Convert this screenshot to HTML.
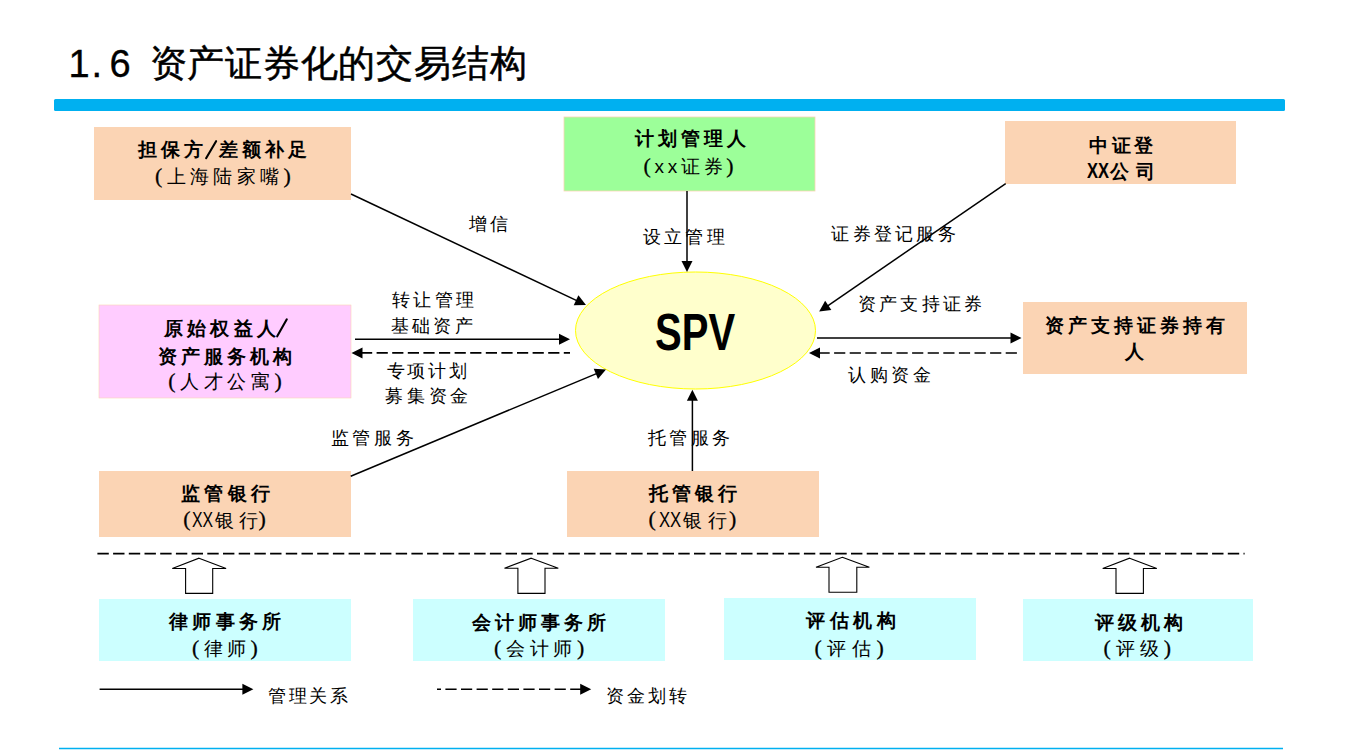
<!DOCTYPE html>
<html><head><meta charset="utf-8"><style>
html,body{margin:0;padding:0;background:#fff;}
body{width:1349px;height:752px;overflow:hidden;position:relative;font-family:"Liberation Sans",sans-serif;color:#000;}
svg{position:absolute;left:0;top:0;}
.t{position:absolute;white-space:nowrap;line-height:1;}
.sl{font-size:1.35em;line-height:0}
.pl,.pr{font-family:"Liberation Serif",serif;font-size:1.15em;display:inline-block;line-height:0;-webkit-text-stroke:0.3px #000}
.pl{text-align:right;width:12px}
.pr{text-align:left;width:10px}
.spv{position:absolute;left:656px;top:0;font-weight:bold;white-space:nowrap;line-height:1;transform-origin:0 0;}
</style></head><body>
<svg width="1349" height="752" viewBox="0 0 1349 752">
<rect x="54" y="99" width="1231" height="12" rx="1.5" fill="#00B0F0"/>
<line x1="59" y1="748.4" x2="1283" y2="748.4" stroke="#00B0F0" stroke-width="1.5"/>
<rect x="94" y="127" width="257" height="73" fill="#FBD4B4" />
<rect x="564" y="117" width="251" height="74" fill="#9CFF99" stroke="#FBD4B4" stroke-width="0.8"/>
<rect x="1005" y="121" width="231" height="63" fill="#FBD4B4" />
<rect x="99" y="305" width="252" height="93" fill="#FFCCFF" stroke="#FBD4B4" stroke-width="0.6"/>
<rect x="1023" y="302" width="224" height="72" fill="#FBD4B4" />
<rect x="99" y="471" width="252" height="66" fill="#FBD4B4" />
<rect x="567" y="471" width="252" height="66" fill="#FBD4B4" />
<rect x="99" y="599" width="252" height="62" fill="#CCFFFF" />
<rect x="413" y="599" width="252" height="62" fill="#CCFFFF" />
<rect x="724" y="598" width="252" height="62" fill="#CCFFFF" />
<rect x="1023" y="599" width="230" height="62" fill="#CCFFFF" />
<ellipse cx="695.5" cy="330.5" rx="120" ry="58.5" fill="#FFFFCC" stroke="#FFFF00" stroke-width="1"/>
<polygon points="586.00,305.00 573.70,305.28 578.40,295.33" fill="#000"/>
<line x1="351.00" y1="194.00" x2="577.86" y2="301.16" stroke="#000" stroke-width="1.5"/>
<polygon points="687.00,272.00 681.50,261.00 692.50,261.00" fill="#000"/>
<line x1="687.00" y1="191.00" x2="687.00" y2="263.00" stroke="#000" stroke-width="1.5"/>
<polygon points="819.20,311.60 825.16,300.84 831.38,309.91" fill="#000"/>
<line x1="1005.70" y1="183.60" x2="826.62" y2="306.51" stroke="#000" stroke-width="1.5"/>
<polygon points="570.00,339.30 559.00,344.80 559.00,333.80" fill="#000"/>
<line x1="355.00" y1="339.30" x2="561.00" y2="339.30" stroke="#000" stroke-width="1.5"/>
<polygon points="351.50,352.90 362.50,347.40 362.50,358.40" fill="#000"/>
<line x1="361.00" y1="352.90" x2="570.00" y2="352.90" stroke="#000" stroke-width="1.7" stroke-dasharray="11.2 4.4"/>
<polygon points="606.00,369.60 597.97,378.91 593.73,368.76" fill="#000"/>
<line x1="350.70" y1="476.20" x2="597.69" y2="373.07" stroke="#000" stroke-width="1.5"/>
<polygon points="692.40,389.80 697.90,400.80 686.90,400.80" fill="#000"/>
<line x1="692.40" y1="471.00" x2="692.40" y2="398.80" stroke="#000" stroke-width="1.5"/>
<polygon points="1021.50,338.00 1010.50,343.50 1010.50,332.50" fill="#000"/>
<line x1="817.00" y1="338.00" x2="1012.50" y2="338.00" stroke="#000" stroke-width="1.5"/>
<polygon points="809.00,353.00 820.00,347.50 820.00,358.50" fill="#000"/>
<line x1="818.50" y1="353.00" x2="1017.00" y2="353.00" stroke="#000" stroke-width="1.7" stroke-dasharray="11.2 4.4"/>
<polygon points="253.40,689.30 242.40,694.80 242.40,683.80" fill="#000"/>
<line x1="99.60" y1="689.30" x2="244.40" y2="689.30" stroke="#000" stroke-width="1.5"/>
<polygon points="591.20,689.20 580.20,694.70 580.20,683.70" fill="#000"/>
<line x1="437.00" y1="689.20" x2="582.20" y2="689.20" stroke="#000" stroke-width="1.5" stroke-dasharray="11.2 4.4" stroke-dashoffset="7.2"/>
<line x1="216.1" y1="141.2" x2="206.1" y2="158.2" stroke="#000" stroke-width="2.1" stroke-linecap="round"/>
<line x1="286.8" y1="319.3" x2="277.2" y2="336.3" stroke="#000" stroke-width="2.1" stroke-linecap="round"/>
<line x1="97.4" y1="553.7" x2="1244.6" y2="553.7" stroke="#000" stroke-width="1.7" stroke-dasharray="11.4 4.3"/>
<polygon points="199.0,558.2 226.1,568.5 212.7,568.5 212.7,593.4 185.6,593.4 185.6,568.5 172.3,568.5" fill="#fff" stroke="#000" stroke-width="1.1" stroke-linejoin="miter"/>
<polygon points="531.2,558.2 558.3,568.2 545.0,568.2 545.0,593.4 517.9,593.4 517.9,568.2 504.5,568.2" fill="#fff" stroke="#000" stroke-width="1.1" stroke-linejoin="miter"/>
<polygon points="842.3,557.3 869.4,567.3 856.8,567.3 856.8,592.2 829.0,592.2 829.0,567.3 816.0,567.3" fill="#fff" stroke="#000" stroke-width="1.1" stroke-linejoin="miter"/>
<polygon points="1129.6,558.2 1156.8,568.5 1143.4,568.5 1143.4,593.4 1116.0,593.4 1116.0,568.5 1102.7,568.5" fill="#fff" stroke="#000" stroke-width="1.1" stroke-linejoin="miter"/>
</svg>
<div class="t" style="left:1087.14px;top:159.75px;font-size:22.17px;font-weight:700;transform:scaleX(0.744);transform-origin:0 0">XX</div>
<div class="t" style="left:191.68px;top:509.21px;font-size:22.46px;font-weight:400;transform:scaleX(0.704);transform-origin:0 0">XX</div>
<div class="t" style="left:658.67px;top:509.21px;font-size:22.46px;font-weight:400;transform:scaleX(0.742);transform-origin:0 0">XX</div>
<div class="t" style="left:138.3px;top:140.0px;font-size:19px;font-weight:700;letter-spacing:4.1px">担保方</div>
<div class="t" style="left:219px;top:140.0px;font-size:19px;font-weight:700;letter-spacing:4.1px">差额补足</div>
<div class="t" style="left:154.6px;top:167.0px;font-size:19px;font-weight:400;letter-spacing:4.4px"><span class=pl>(</span>上海陆家嘴<span class=pr>)</span></div>
<div class="t" style="left:634.5px;top:129.2px;font-size:19px;font-weight:700;letter-spacing:4.03px">计划管理人</div>
<div class="t" style="left:642.5px;top:156.5px;font-size:19px;font-weight:400;letter-spacing:3.7px"><span class=pl>(</span>xx证券<span class=pr>)</span></div>
<div class="t" style="left:1089.2px;top:135.5px;font-size:19px;font-weight:700;letter-spacing:3.65px">中证登</div>
<div class="t" style="left:1110.3px;top:162.2px;font-size:19px;font-weight:700;letter-spacing:6.7px">公司</div>
<div class="t" style="left:164px;top:318.7px;font-size:19px;font-weight:700;letter-spacing:4.2px">原始权益人</div>
<div class="t" style="left:158px;top:346.5px;font-size:19px;font-weight:700;letter-spacing:4.0px">资产服务机构</div>
<div class="t" style="left:168px;top:372.25px;font-size:19px;font-weight:400;letter-spacing:4.6px"><span class=pl>(</span>人才公寓<span class=pr>)</span></div>
<div class="t" style="left:1045.3px;top:315.8px;font-size:19px;font-weight:700;letter-spacing:3.99px">资产支持证券持有</div>
<div class="t" style="left:1124.5px;top:342.0px;font-size:19px;font-weight:700;letter-spacing:0px">人</div>
<div class="t" style="left:181px;top:484.45px;font-size:19px;font-weight:700;letter-spacing:4.33px">监管银行</div>
<div class="t" style="left:178.6px;top:510.15px;font-size:19px;font-weight:400;letter-spacing:0px"><span class=pl>(</span></div>
<div class="t" style="left:215.4px;top:511.0px;font-size:19px;font-weight:400;letter-spacing:4.9px">银行</div>
<div class="t" style="left:258.5px;top:510.15px;font-size:19px;font-weight:400;letter-spacing:0px"><span class=pr>)</span></div>
<div class="t" style="left:649px;top:484.4px;font-size:19px;font-weight:700;letter-spacing:4.1px">托管银行</div>
<div class="t" style="left:643.7px;top:509.8px;font-size:19px;font-weight:400;letter-spacing:0px"><span class=pl>(</span></div>
<div class="t" style="left:683.2px;top:511.0px;font-size:19px;font-weight:400;letter-spacing:5.4px">银行</div>
<div class="t" style="left:728.9px;top:509.8px;font-size:19px;font-weight:400;letter-spacing:0px"><span class=pr>)</span></div>
<div class="t" style="left:169px;top:612.4px;font-size:19px;font-weight:700;letter-spacing:4.25px">律师事务所</div>
<div class="t" style="left:191.7px;top:638.5px;font-size:19px;font-weight:400;letter-spacing:4.43px"><span class=pl>(</span>律师<span class=pr>)</span></div>
<div class="t" style="left:471.6px;top:612.5px;font-size:19px;font-weight:700;letter-spacing:4.02px">会计师事务所</div>
<div class="t" style="left:494px;top:639.0px;font-size:19px;font-weight:400;letter-spacing:4.62px"><span class=pl>(</span>会计师<span class=pr>)</span></div>
<div class="t" style="left:806.3px;top:611.25px;font-size:19px;font-weight:700;letter-spacing:4.43px">评估机构</div>
<div class="t" style="left:814.6px;top:638.5px;font-size:19px;font-weight:400;letter-spacing:6.0px"><span class=pl>(</span>评估<span class=pr>)</span></div>
<div class="t" style="left:1094.5px;top:612.5px;font-size:19px;font-weight:700;letter-spacing:4.27px">评级机构</div>
<div class="t" style="left:1103.5px;top:638.5px;font-size:19px;font-weight:400;letter-spacing:5.17px"><span class=pl>(</span>评级<span class=pr>)</span></div>
<div class="t" style="left:468.8px;top:215.85px;font-size:17.5px;font-weight:400;letter-spacing:3.0px">增信</div>
<div class="t" style="left:642.6px;top:229.0px;font-size:17.5px;font-weight:400;letter-spacing:3.37px">设立管理</div>
<div class="t" style="left:831.3px;top:225.85px;font-size:17.5px;font-weight:400;letter-spacing:3.3px">证券登记服务</div>
<div class="t" style="left:392px;top:292.35px;font-size:17.5px;font-weight:400;letter-spacing:3.33px">转让管理</div>
<div class="t" style="left:391px;top:317.5px;font-size:17.5px;font-weight:400;letter-spacing:3.23px">基础资产</div>
<div class="t" style="left:857.7px;top:296.1px;font-size:17.5px;font-weight:400;letter-spacing:3.36px">资产支持证券</div>
<div class="t" style="left:386.8px;top:362.7px;font-size:17.5px;font-weight:400;letter-spacing:2.67px">专项计划</div>
<div class="t" style="left:385px;top:388.1px;font-size:17.5px;font-weight:400;letter-spacing:3.77px">募集资金</div>
<div class="t" style="left:848px;top:366.9px;font-size:17.5px;font-weight:400;letter-spacing:3.63px">认购资金</div>
<div class="t" style="left:330.6px;top:429.85px;font-size:17.5px;font-weight:400;letter-spacing:3.8px">监管服务</div>
<div class="t" style="left:647.7px;top:429.8px;font-size:17.5px;font-weight:400;letter-spacing:3.5px">托管服务</div>
<div class="t" style="left:268px;top:688.1px;font-size:17.5px;font-weight:400;letter-spacing:2.6px">管理关系</div>
<div class="t" style="left:605.8px;top:687.6px;font-size:17.5px;font-weight:400;letter-spacing:3.0px">资金划转</div>
<div class="spv" style="font-size:52px;top:305.7px;left:655px;transform:scaleX(0.77)">SPV</div>
<div class="t" style="left:68.6px;top:45.4px;font-size:38px;-webkit-text-stroke:0.35px #000">1</div>
<div class="t" style="left:91.5px;top:45.4px;font-size:38px;-webkit-text-stroke:0.35px #000">.</div>
<div class="t" style="left:109.5px;top:45.4px;font-size:38px;-webkit-text-stroke:0.35px #000">6</div>
<div class="t" style="left:149.5px;top:45px;font-size:37px;font-weight:500;letter-spacing:0.8px;-webkit-text-stroke:0.5px #000">资产证券化的交易结构</div>
</body></html>
